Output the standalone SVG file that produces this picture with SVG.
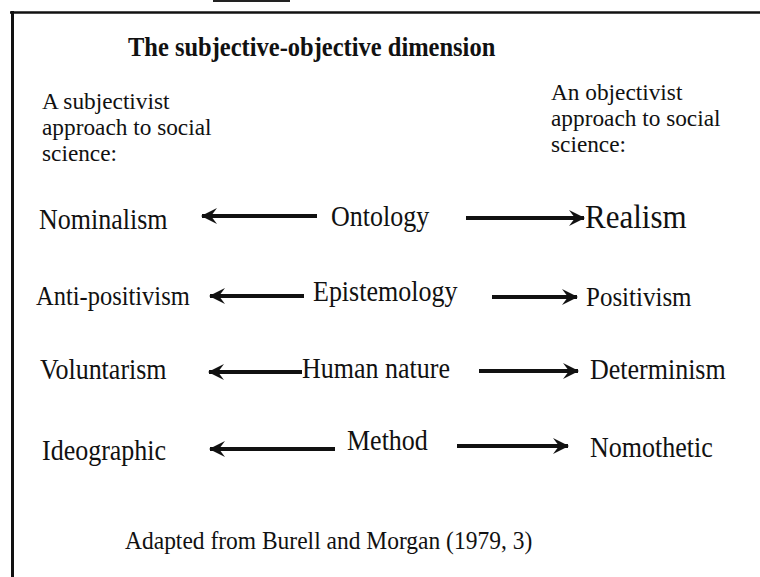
<svg xmlns="http://www.w3.org/2000/svg" width="760" height="577" viewBox="0 0 760 577">
  <style>
    .t { font-family: "Liberation Serif", "Times New Roman", serif; fill: #111; }
    .title { font-weight: bold; font-size: 24.5px; }
    .note { font-size: 23.3px; }
    .term { font-size: 26px; }
    .frame { stroke: #111; fill: none; }
    .conn { stroke: #111; stroke-width: 4; fill: none; }
  </style>
  <defs>
    <marker id="head" markerUnits="userSpaceOnUse" markerWidth="18" markerHeight="18" refX="15" refY="9" orient="auto-start-reverse">
      <path d="M0,1 L16,9 L0,17 L6,9 Z" fill="#111"/>
    </marker>
  </defs>
  <rect width="760" height="577" fill="#fff"/>

  <!-- outer frame, open at the right and bottom -->
  <g id="frame">
    <rect x="213" y="0" width="77" height="2" fill="#222"/>
    <line class="frame" x1="10" y1="12.5" x2="760" y2="12.5" stroke-width="2.5"/>
    <line class="frame" x1="12.5" y1="11" x2="12.5" y2="577" stroke-width="3"/>
  </g>

  <g id="title">
    <text class="t title" transform="translate(128,56) scale(1,1.08)">The subjective-objective dimension</text>
  </g>

  <g id="subjectivist">
    <text class="t note" x="42" y="109">A subjectivist</text>
    <text class="t note" x="42" y="135">approach to social</text>
    <text class="t note" x="42" y="161">science:</text>
  </g>
  <g id="objectivist">
    <text class="t note" x="551" y="100">An objectivist</text>
    <text class="t note" x="551" y="126">approach to social</text>
    <text class="t note" x="551" y="152">science:</text>
  </g>

  <!-- row 1 -->
  <g id="nominalism"><text class="t term" transform="translate(39,229) scale(1,1.12)">Nominalism</text></g>
  <g id="ontology"><text class="t term" transform="translate(331,226) scale(1,1.12)">Ontology</text></g>
  <g id="realism"><text class="t term" transform="translate(585,228) scale(1,1.1)" style="font-size:31px">Realism</text></g>
  <!-- row 2 -->
  <g id="anti-positivism"><text class="t term" transform="translate(36,305) scale(1,1.12)" style="font-size:24.5px">Anti-positivism</text></g>
  <g id="epistemology"><text class="t term" transform="translate(313,301) scale(1,1.12)">Epistemology</text></g>
  <g id="positivism"><text class="t term" transform="translate(586,306) scale(1,1.12)" style="font-size:25px">Positivism</text></g>
  <!-- row 3 -->
  <g id="voluntarism"><text class="t term" transform="translate(40,379) scale(1,1.12)">Voluntarism</text></g>
  <g id="human-nature"><text class="t term" transform="translate(302,378) scale(1,1.12)">Human nature</text></g>
  <g id="determinism"><text class="t term" transform="translate(590,379) scale(1,1.12)">Determinism</text></g>
  <!-- row 4 -->
  <g id="ideographic"><text class="t term" transform="translate(42,460) scale(1,1.12)">Ideographic</text></g>
  <g id="method"><text class="t term" transform="translate(347,450) scale(1,1.12)">Method</text></g>
  <g id="nomothetic"><text class="t term" transform="translate(590,457) scale(1,1.12)">Nomothetic</text></g>

  <g id="source">
    <text class="t note" transform="translate(125,549) scale(1,1.1)" style="font-size:23.5px">Adapted from Burell and Morgan (1979, 3)</text>
  </g>

  <!-- connectors: each concept points out to both ends of its dimension -->
  <g id="connectors">
    <line class="conn" x1="317" y1="216" x2="202" y2="216" marker-end="url(#head)"/>
    <line class="conn" x1="466" y1="218" x2="584" y2="218" marker-end="url(#head)"/>
    <line class="conn" x1="304" y1="296" x2="210" y2="296" marker-end="url(#head)"/>
    <line class="conn" x1="492" y1="297" x2="577" y2="297" marker-end="url(#head)"/>
    <line class="conn" x1="302" y1="372" x2="209" y2="372" marker-end="url(#head)"/>
    <line class="conn" x1="479" y1="371" x2="578" y2="371" marker-end="url(#head)"/>
    <line class="conn" x1="335" y1="449" x2="210" y2="449" marker-end="url(#head)"/>
    <line class="conn" x1="457" y1="446" x2="568" y2="446" marker-end="url(#head)"/>
  </g>
</svg>
